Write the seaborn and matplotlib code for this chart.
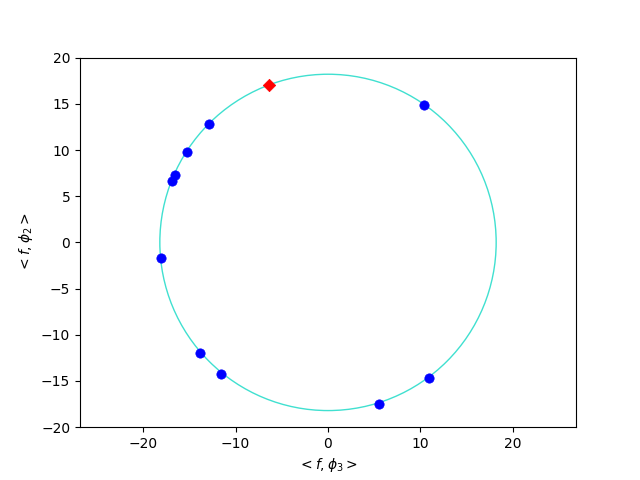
import numpy as np
import pandas as pd
import matplotlib
matplotlib.use("Agg")
import matplotlib.pyplot as plt
import seaborn as sns
from matplotlib.patches import Circle

# Data
radius = 18.2
blue_x = [10.4, -12.9, -15.3, -16.6, -16.9, -18.1, -13.8, -11.6, 5.5, 10.9]
blue_y = [14.9, 12.8, 9.8, 7.3, 6.6, -1.7, -12.0, -14.2, -17.5, -14.7]
red_x = [-6.4]
red_y = [17.0]

xlabel = r"$<f,\phi_3>$"
ylabel = r"$<f,\phi_2>$"

fig, ax = plt.subplots(figsize=(6.4, 4.8), dpi=100)

ax.add_patch(Circle((0, 0), radius, fill=False, edgecolor="#40E0D0", linewidth=1.0))

blue_df = pd.DataFrame({"x": blue_x, "y": blue_y})
red_df = pd.DataFrame({"x": red_x, "y": red_y})
sns.scatterplot(data=blue_df, x="x", y="y", color="blue", marker="o", s=45,
                edgecolor="blue", linewidth=0.5, ax=ax, zorder=3)
sns.scatterplot(data=red_df, x="x", y="y", color="red", marker="D", s=40,
                edgecolor="red", linewidth=0.5, ax=ax, zorder=3)

ax.set_ylim(-20, 20)
ax.set_aspect("equal", adjustable="datalim")
ax.set_xlim(-27, 27)
ax.set_yticks(np.arange(-20, 21, 5))
ax.set_xticks([-20, -10, 0, 10, 20])
ax.set_xlabel(xlabel)
ax.set_ylabel(ylabel)

fig.savefig("out.png", dpi=100)
